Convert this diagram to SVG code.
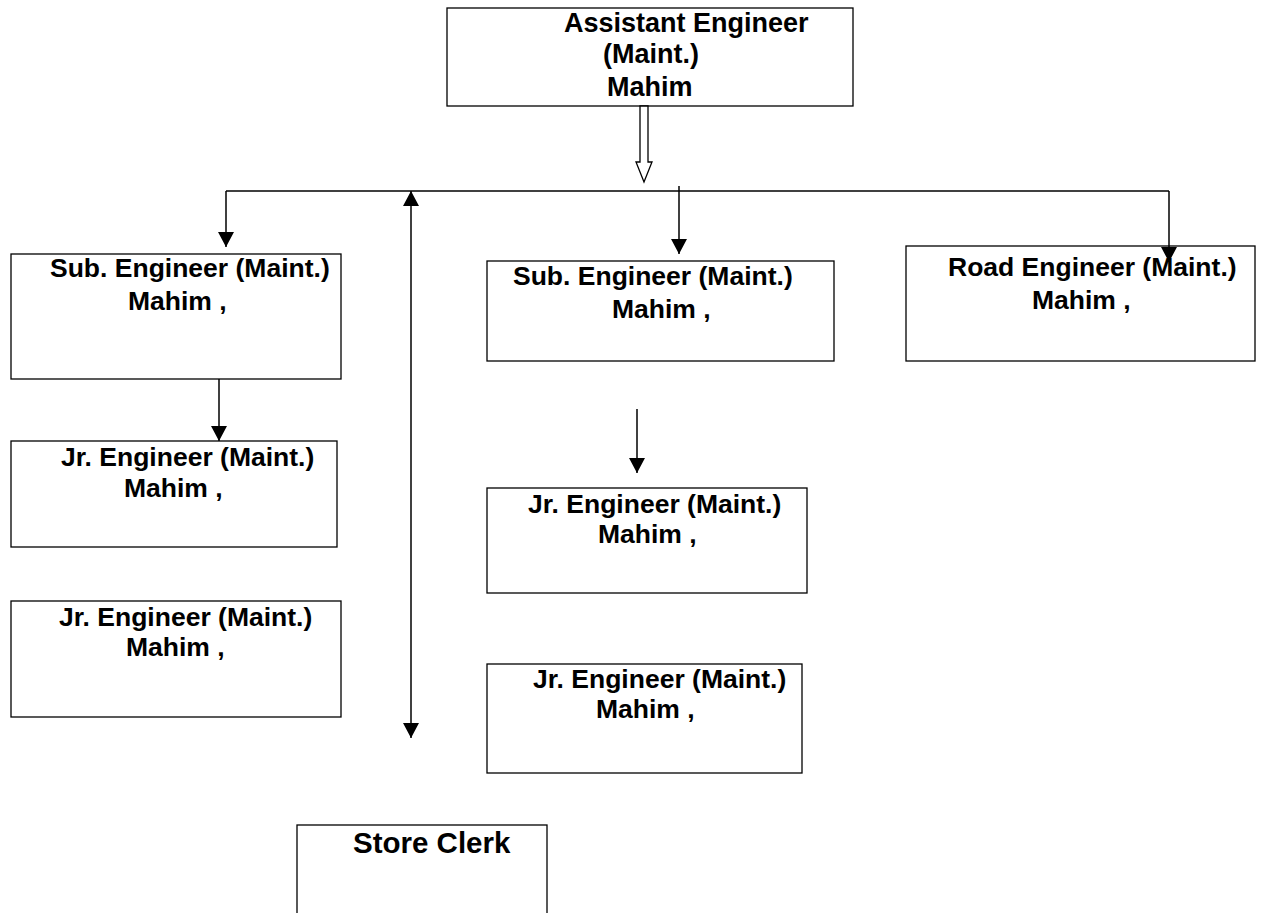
<svg xmlns="http://www.w3.org/2000/svg" width="1261" height="913" viewBox="0 0 1261 913">
<defs>
<style>
.box{fill:#fff;stroke:#000;stroke-width:1.3}
.t{font-family:"Liberation Sans",Arial,sans-serif;font-weight:bold;font-size:26.5px;fill:#000}
.conn{stroke:#000;stroke-width:1.5;fill:none}
</style>
<marker id="ah" markerUnits="userSpaceOnUse" markerWidth="16" markerHeight="16" viewBox="0 0 16 16" refX="15" refY="8" orient="auto-start-reverse">
<path d="M0,0 L15,8 L0,16 Z" fill="#000"/>
</marker>
</defs>
<rect width="1261" height="913" fill="#fff"/>
<g id="assistant-engineer">
<rect class="box" x="447" y="8" width="406" height="98"/>
<text class="t" style="font-size:27px" x="564" y="32">Assistant Engineer</text>
<text class="t" style="font-size:27px" x="603" y="63">(Maint.)</text>
<text class="t" style="font-size:27px" x="607" y="96">Mahim</text>
</g>
<g id="sub-engineer-1">
<rect class="box" x="11" y="254" width="330" height="125"/>
<text class="t" x="50" y="277">Sub. Engineer (Maint.)</text>
<text class="t" x="128" y="310">Mahim ,</text>
</g>
<g id="sub-engineer-2">
<rect class="box" x="487" y="261" width="347" height="100"/>
<text class="t" x="513" y="285">Sub. Engineer (Maint.)</text>
<text class="t" x="612" y="318">Mahim ,</text>
</g>
<g id="road-engineer">
<rect class="box" x="906" y="246" width="349" height="115"/>
<text class="t" x="948" y="276">Road Engineer (Maint.)</text>
<text class="t" x="1032" y="309">Mahim ,</text>
</g>
<g id="jr-engineer-1">
<rect class="box" x="11" y="441" width="326" height="106"/>
<text class="t" x="61" y="466">Jr. Engineer (Maint.)</text>
<text class="t" x="124" y="497">Mahim ,</text>
</g>
<g id="jr-engineer-2">
<rect class="box" x="11" y="601" width="330" height="116"/>
<text class="t" x="59" y="626">Jr. Engineer (Maint.)</text>
<text class="t" x="126" y="656">Mahim ,</text>
</g>
<g id="jr-engineer-3">
<rect class="box" x="487" y="488" width="320" height="105"/>
<text class="t" x="528" y="513">Jr. Engineer (Maint.)</text>
<text class="t" x="598" y="543">Mahim ,</text>
</g>
<g id="jr-engineer-4">
<rect class="box" x="487" y="664" width="315" height="109"/>
<text class="t" x="533" y="688">Jr. Engineer (Maint.)</text>
<text class="t" x="596" y="718">Mahim ,</text>
</g>
<g id="store-clerk">
<rect class="box" x="297" y="825" width="250" height="100"/>
<text class="t" style="font-size:29.5px" x="353" y="853">Store Clerk</text>
</g>
<g id="connectors">
<path d="M640,106 L648,106 L648,162 L652,162 L644,182 L636,162 L640,162 Z" fill="#fff" stroke="#000" stroke-width="1.3"/>
<line class="conn" x1="226" y1="191" x2="1169" y2="191"/>
<line class="conn" x1="226" y1="191" x2="226" y2="247" marker-end="url(#ah)"/>
<line class="conn" x1="679" y1="186" x2="679" y2="254" marker-end="url(#ah)"/>
<line class="conn" x1="1169" y1="191" x2="1169" y2="262" marker-end="url(#ah)"/>
<line class="conn" x1="411" y1="191" x2="411" y2="738" marker-start="url(#ah)" marker-end="url(#ah)"/>
<line class="conn" x1="219" y1="379" x2="219" y2="441" marker-end="url(#ah)"/>
<line class="conn" x1="637" y1="409" x2="637" y2="473" marker-end="url(#ah)"/>
</g>
</svg>
